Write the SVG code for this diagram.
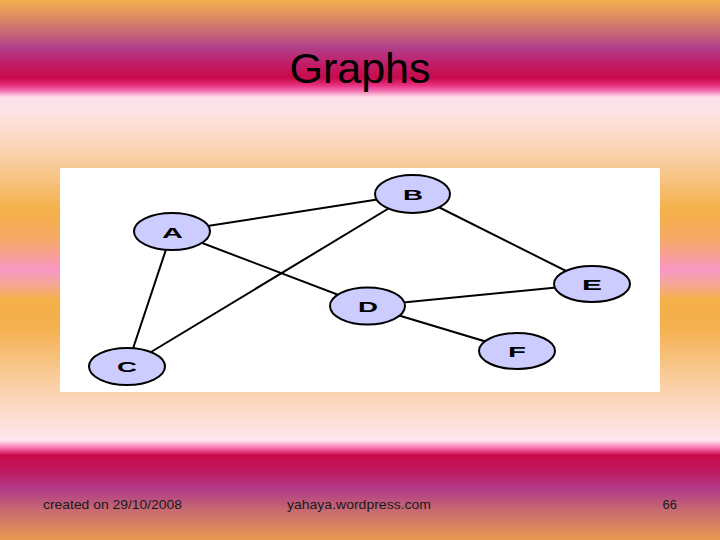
<svg xmlns="http://www.w3.org/2000/svg" width="720" height="540" viewBox="0 0 720 540">
  <defs>
    <linearGradient id="bg" x1="0" y1="0" x2="0" y2="540" gradientUnits="userSpaceOnUse">
      <stop offset="0" stop-color="#f5b050"/>
      <stop offset="0.028" stop-color="#e09060"/>
      <stop offset="0.065" stop-color="#c46278"/>
      <stop offset="0.088" stop-color="#b0408a"/>
      <stop offset="0.115" stop-color="#c0206a"/>
      <stop offset="0.145" stop-color="#c80a4a"/>
      <stop offset="0.158" stop-color="#e83080"/>
      <stop offset="0.168" stop-color="#f070b0"/>
      <stop offset="0.18" stop-color="#ffe0ea"/>
      <stop offset="0.205" stop-color="#fce4e6"/>
      <stop offset="0.26" stop-color="#fcd8c0"/>
      <stop offset="0.315" stop-color="#f8c890"/>
      <stop offset="0.39" stop-color="#f5b048"/>
      <stop offset="0.445" stop-color="#f5a868"/>
      <stop offset="0.5" stop-color="#f898c4"/>
      <stop offset="0.53" stop-color="#f5a890"/>
      <stop offset="0.555" stop-color="#f5b048"/>
      <stop offset="0.61" stop-color="#f5b050"/>
      <stop offset="0.685" stop-color="#f8c890"/>
      <stop offset="0.76" stop-color="#fcdcc8"/>
      <stop offset="0.815" stop-color="#ffe6ee"/>
      <stop offset="0.83" stop-color="#f870b0"/>
      <stop offset="0.843" stop-color="#c80a4a"/>
      <stop offset="0.87" stop-color="#c01860"/>
      <stop offset="0.907" stop-color="#b03c88"/>
      <stop offset="0.945" stop-color="#c86a70"/>
      <stop offset="1" stop-color="#e89a50"/>
    </linearGradient>
    <style>
      .node { fill: #ccccff; stroke: #000; stroke-width: 2; }
      .lbl { font-family: "Liberation Sans", Arial, sans-serif; font-weight: bold; font-size: 15px; fill: #000; }
      .edge { stroke: #000; stroke-width: 2; fill: none; }
      .foot { font-family: "Liberation Sans", Arial, sans-serif; font-size: 13px; fill: #1a1a1a; }
    </style>
  </defs>
  <rect x="0" y="0" width="720" height="540" fill="url(#bg)"/>
  <text x="360" y="83" text-anchor="middle" font-family="'Liberation Sans', Arial, sans-serif" font-size="43" fill="#000">Graphs</text>
  <rect x="60" y="168" width="600" height="224" fill="#ffffff"/>
  <g id="connectors">
    <line class="edge" x1="172" y1="231.5" x2="412.5" y2="194"/>
    <line class="edge" x1="412.5" y1="194" x2="127" y2="366.5"/>
    <line class="edge" x1="172" y1="231.5" x2="127" y2="366.5"/>
    <line class="edge" x1="172" y1="231.5" x2="367.5" y2="306"/>
    <line class="edge" x1="412.5" y1="194" x2="592" y2="284"/>
    <line class="edge" x1="367.5" y1="306" x2="592" y2="284"/>
    <line class="edge" x1="367.5" y1="306" x2="517" y2="351"/>
  </g>
  <g id="node-A">
    <ellipse class="node" cx="172" cy="231.5" rx="38" ry="18.5"/>
    <text class="lbl" x="162" y="237.5" textLength="21" lengthAdjust="spacingAndGlyphs">A</text>
  </g>
  <g id="node-B">
    <ellipse class="node" cx="412.5" cy="194" rx="37.5" ry="19"/>
    <text class="lbl" x="403" y="199.5" textLength="20" lengthAdjust="spacingAndGlyphs">B</text>
  </g>
  <g id="node-C">
    <ellipse class="node" cx="127" cy="366.5" rx="38" ry="18.5"/>
    <text class="lbl" x="117" y="372" textLength="20" lengthAdjust="spacingAndGlyphs">C</text>
  </g>
  <g id="node-D">
    <ellipse class="node" cx="367.5" cy="306" rx="37.5" ry="18.5"/>
    <text class="lbl" x="358" y="311.5" textLength="20" lengthAdjust="spacingAndGlyphs">D</text>
  </g>
  <g id="node-E">
    <ellipse class="node" cx="592" cy="284" rx="38" ry="18"/>
    <text class="lbl" x="582" y="289.5" textLength="20" lengthAdjust="spacingAndGlyphs">E</text>
  </g>
  <g id="node-F">
    <ellipse class="node" cx="517" cy="351" rx="38" ry="18"/>
    <text class="lbl" x="508" y="356.5" textLength="18" lengthAdjust="spacingAndGlyphs">F</text>
  </g>
  <text class="foot" x="43" y="508.5" textLength="139" lengthAdjust="spacingAndGlyphs">created on 29/10/2008</text>
  <text class="foot" x="287" y="508.5" textLength="144" lengthAdjust="spacingAndGlyphs">yahaya.wordpress.com</text>
  <text class="foot" x="677" y="508.5" text-anchor="end">66</text>
</svg>
